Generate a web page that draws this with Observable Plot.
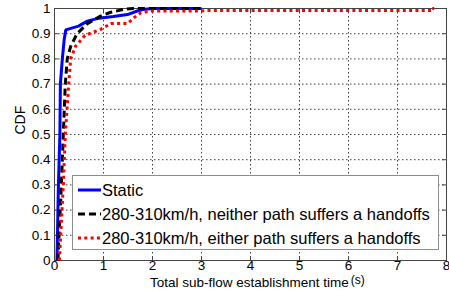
<!DOCTYPE html>
<html><head><meta charset="utf-8">
<script src="https://cdn.jsdelivr.net/npm/d3@7"></script>
<script src="https://cdn.jsdelivr.net/npm/@observablehq/plot@0.6"></script>
<style>
body{margin:0;background:#fff;}
#wrap{position:relative;width:449px;height:295px;font-family:"Liberation Sans",Arial,sans-serif;color:#000;}
#legend{position:absolute;left:72px;top:175px;width:367px;height:75px;border:1px solid #8c8c8c;background:#fff;box-sizing:border-box;}
.row{position:absolute;left:5px;height:24px;display:flex;align-items:center;font-size:16.5px;white-space:nowrap;}
.row svg{margin-right:1px;}
#xlab{position:absolute;left:150px;top:276px;font-size:13.5px;white-space:nowrap;line-height:14px;}
#xlab .u{font-size:12px;position:relative;top:-3px;margin-left:2px;}
</style></head>
<body><div id="wrap"></div>
<script>
const seriesNames = ["Static", "280-310km/h, neither path suffers a handoffs", "280-310km/h, either path suffers a handoffs"];
const xTicks = [0,1,2,3,4,5,6,7,8];
const yTicks = [0,0.1,0.2,0.3,0.4,0.5,0.6,0.7,0.8,0.9,1];
const xLabel = "Total sub-flow establishment time";
const xUnit = "(s)";
const yLabel = "CDF";

const staticX = [0.05,0.08,0.11,0.12,0.16,0.2,0.23,0.49,0.67,0.87,1.2,1.49,1.69,1.8,2.0,3.0];
const staticY = [0,0.3,0.5,0.7,0.8,0.88,0.915,0.93,0.95,0.96,0.968,0.976,0.99,0.996,1,1];
const neitherX = [0.07,0.14,0.18,0.22,0.26,0.33,0.46,0.67,0.94,1.15,1.4,1.6,3.0];
const neitherY = [0,0.3,0.5,0.7,0.8,0.85,0.9,0.94,0.97,0.985,0.996,1,1];
const eitherX = [0.1,0.18,0.22,0.29,0.33,0.43,0.62,0.94,1.15,1.49,1.62,1.76,1.96,3.0,3.1,7.7,7.7,7.75];
const eitherY = [0,0.3,0.5,0.7,0.8,0.85,0.893,0.917,0.94,0.94,0.963,0.983,0.99,0.99,0.992,0.992,1,1];

const colors = ["#0000ff","#000000","#ff0000"];
const dashes = [null,"7,4","3,3.3"];
const rows = [];
[[staticX,staticY],[neitherX,neitherY],[eitherX,eitherY]].forEach(([xs,ys],k)=>{
  xs.forEach((x,i)=>rows.push({s:seriesNames[k],x,y:ys[i],k}));
});

const fmt = d => String(d);
const tickLenY = 0.016, tickLenX = 0.08;
const chart = Plot.plot({
  width: 449, height: 295,
  marginLeft: 54, marginRight: 3, marginTop: 8, marginBottom: 35,
  style: {fontFamily: '"Liberation Sans",Arial,sans-serif', fontSize: "13px", color: "#000", background: "#fff"},
  x: {domain: [0,8]},
  y: {domain: [0,1]},
  marks: [
    Plot.gridX(xTicks.slice(1,-1), {stroke: "#222", strokeOpacity: 0.85, strokeDasharray: "1.5,2.5"}),
    Plot.gridY(yTicks.slice(1,-1), {stroke: "#222", strokeOpacity: 0.85, strokeDasharray: "1.5,2.5"}),
    Plot.ruleX(xTicks, {y1: 0, y2: tickLenY, stroke: "#444"}),
    Plot.ruleX(xTicks, {y1: 1, y2: 1 - tickLenY, stroke: "#444"}),
    Plot.ruleY(yTicks, {x1: 0, x2: tickLenX, stroke: "#444"}),
    Plot.ruleY(yTicks, {x1: 8, x2: 8 - tickLenX, stroke: "#444"}),
    Plot.frame({stroke: "#444"}),
    ...[0,1,2].map(k => Plot.line(rows.filter(d=>d.k===k), {x:"x", y:"y", stroke: colors[k], strokeWidth: 3, strokeDasharray: dashes[k], strokeLinejoin: "miter", strokeLinecap: "butt"})),
    Plot.axisX(xTicks, {tickSize: 0, tickPadding: 0, label: null, fontSize: 13.5, tickFormat: fmt}),
    Plot.axisY(yTicks, {tickSize: 0, tickPadding: 4, label: null, fontSize: 13.5, tickFormat: fmt}),
    Plot.text([yLabel], {frameAnchor: "left", dx: -34, rotate: -90, fontSize: 14})
  ]
});
const wrap = document.getElementById("wrap");
wrap.appendChild(chart);

const leg = document.createElement("div");
leg.id = "legend";
seriesNames.forEach((name,k)=>{
  const r = document.createElement("div");
  r.className = "row";
  r.style.top = (2 + k*24) + "px";
  const da = dashes[k] ? ` stroke-dasharray="${dashes[k]}"` : "";
  r.innerHTML = `<svg width="23" height="10"><line x1="0" x2="23" y1="5" y2="5" stroke="${colors[k]}" stroke-width="3"${da}/></svg><span>${name}</span>`;
  leg.appendChild(r);
});
wrap.appendChild(leg);

const xl = document.createElement("div");
xl.id = "xlab";
xl.innerHTML = `<span>${xLabel}</span><span class="u">${xUnit}</span>`;
wrap.appendChild(xl);
</script>
</body></html>
